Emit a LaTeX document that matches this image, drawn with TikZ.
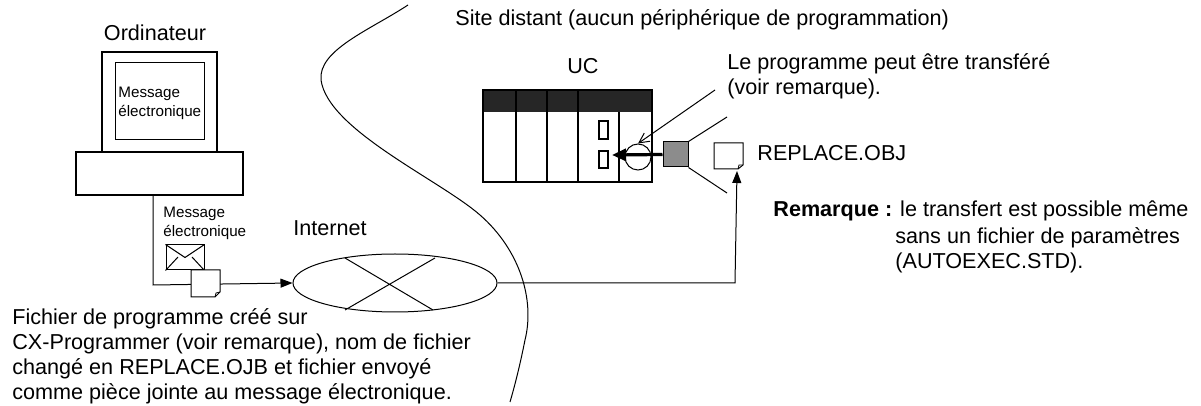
\documentclass[tikz,border=0pt]{standalone}
\usepackage{fontspec}
\setmainfont{Liberation Sans}
\usetikzlibrary{arrows.meta,shapes.geometric}
\begin{document}
\begin{tikzpicture}[x=0.5pt,y=-0.5pt,
  txt/.style={font=\fontsize{10.8}{12.6}\selectfont,inner sep=0pt},
  small/.style={font=\fontsize{7.6}{9.6}\selectfont,inner sep=0pt,align=left},
  box/.style={line width=1.4pt},
  doc/.style={draw,fill=white,line width=0.5pt}]
\useasboundingbox (0,0) rectangle (1201,406);
% divider curve
\draw[line width=0.5pt] (408,5) .. controls (370,30) and (318,50) .. (321,80)
  .. controls (328,130) and (440,180) .. (480,215)
  .. controls (520,250) and (535,300) .. (525,340)
  .. controls (520,365) and (515,385) .. (510,402);
% computer
\node[txt] (ord) at (155,33) {Ordinateur};
\draw[box] (102,52) rectangle (217,152);
\node[draw,line width=0.5pt,minimum width=89pt*0.5,minimum height=77pt*0.5,inner sep=0pt] (scr) at (159.5,101.5) {};
\node[small,anchor=west] (m1) at (118,103) {Message\\électronique};
\node[box,draw,minimum width=167*0.5pt,minimum height=43*0.5pt,inner sep=0pt] (base) at (159.5,173.5) {};
\coordinate (c1) at (153,195);
\coordinate (c2) at (153,285);
\node[small,anchor=west] (m2) at (163,223) {Message\\électronique};
% internet
\node[txt] (inet) at (330,228) {Internet};
\node[draw,ellipse,line width=0.5pt,minimum width=204*0.5pt,minimum height=58*0.5pt,inner sep=0pt] (cloud) at (395,283) {};
\draw[line width=0.5pt] (345,258)--(433,310) (435,258)--(345,310);
\draw[line width=0.5pt,-{Triangle[length=6pt,width=4.5pt]}] (c1)--(c2)--(cloud.west);
% envelope and doc
\node[draw,fill=white,line width=0.5pt,minimum width=38*0.5pt,minimum height=25*0.5pt,inner sep=0pt] (env) at (185,257.5) {};
\draw[line width=0.5pt] (env.north west)--(env.center)--(env.north east);
\draw[line width=0.5pt] (env.south west)--(178,257) (env.south east)--(192,257);
\draw[doc] (191,270)--(220,270)--(220,292)--(215,297)--(191,297)--cycle;
\draw[line width=0.4pt] (215,297)--(216,293)--(220,292);
% PLC
\node[txt] (uc) at (583,66) {UC};
\fill[black!85] (483,90) rectangle (652,112);
\draw[box] (483,90) rectangle (652,182);
\draw[line width=1pt] (516,90)--(516,182) (547,90)--(547,182) (578,90)--(578,182) (619,112)--(619,182);
\draw[line width=0.6pt] (599,121) rectangle (608,139) (599,151) rectangle (608,168);
\node[circle,draw,line width=0.5pt,minimum size=26*0.5pt,inner sep=0pt] (circ) at (638,157) {};
\node[draw,fill=black!45,line width=0.5pt,minimum size=25*0.5pt,inner sep=0pt] (gray) at (675.5,154.5) {};
\draw[line width=1.6pt,-{Triangle[length=7pt,width=6pt]}] (gray.west)--(612,155);
\draw[line width=0.5pt] (gray.north east)--(727,117) (gray.south east)--(727,193);
\coordinate (la) at (715,90);
\draw[line width=0.5pt,-{Straight Barb[length=5pt,width=5pt]}] (la)--(circ.north);
\node[txt,anchor=west,align=left] (lp) at (727,76) {Le programme peut être transféré\\(voir remarque).};
% replace doc
\draw[doc] (714,143)--(743,143)--(743,165)--(738,169)--(714,169)--cycle;
\draw[line width=0.4pt] (738,169)--(739,165)--(743,165);
\coordinate (rd) at (737,171);
\node[txt,anchor=west] (rep) at (757,153) {REPLACE.OBJ};
\draw[line width=0.5pt,-{Triangle[length=6pt,width=4.5pt]}] (cloud.east)--(735,283)--(rd);
% texts
\node[txt,anchor=west] (site) at (455,20) {Site distant (aucun périphérique de programmation)};
\node[txt,anchor=west] (rem) at (773,211) {\textbf{Remarque :} le transfert est possible même};
\node[txt,anchor=north west,align=left] (rem2) at (895,227) {sans un fichier de paramètres\\(AUTOEXEC.STD).};
\node[txt,anchor=north west,align=left] (fich) at (12,308) {Fichier de programme créé sur\\CX-Programmer (voir remarque), nom de fichier\\changé en REPLACE.OJB et fichier envoyé\\comme pièce jointe au message électronique.};
\end{tikzpicture}
\end{document}
